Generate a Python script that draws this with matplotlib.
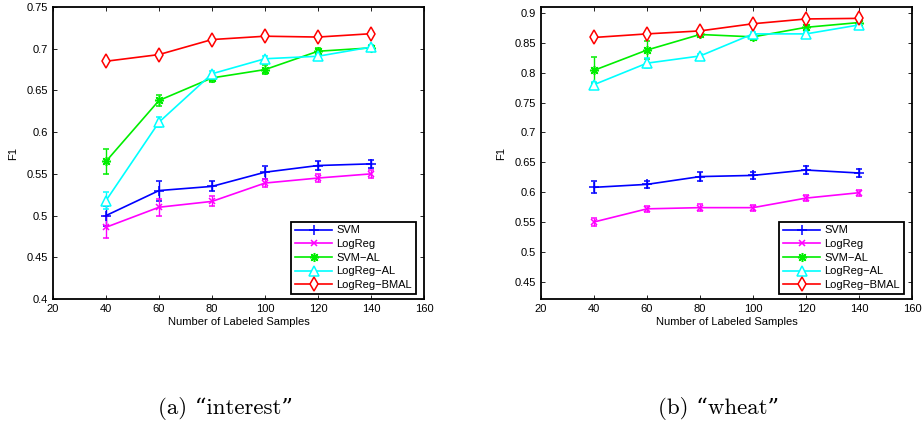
import matplotlib
matplotlib.use("Agg")
import matplotlib.pyplot as plt
from matplotlib.lines import Line2D
import numpy as np

plt.rcParams['font.family'] = ['Liberation Sans', 'DejaVu Sans']

n_labeled = [40, 60, 80, 100, 120, 140]
method_names = ['SVM', 'LogReg', 'SVM\u2212AL', 'LogReg\u2212AL', 'LogReg\u2212BMAL']

# "interest" dataset: mean F1 and error half-widths
interest_svm = [0.500, 0.530, 0.535, 0.552, 0.560, 0.562]
interest_svm_err = [0.012, 0.012, 0.006, 0.008, 0.005, 0.005]
interest_logreg = [0.486, 0.510, 0.517, 0.539, 0.545, 0.550]
interest_logreg_err = [0.013, 0.010, 0.006, 0.005, 0.005, 0.005]
interest_svm_al = [0.565, 0.638, 0.665, 0.675, 0.697, 0.701]
interest_svm_al_err = [0.015, 0.007, 0.005, 0.005, 0.004, 0.003]
interest_logreg_al = [0.518, 0.612, 0.670, 0.688, 0.691, 0.702]
interest_logreg_al_err = [0.010, 0.006, 0.003, 0.003, 0.003, 0.003]
interest_bmal = [0.685, 0.693, 0.711, 0.715, 0.714, 0.718]
interest_bmal_err = [0.002, 0.002, 0.002, 0.002, 0.002, 0.002]

# "wheat" dataset
wheat_svm = [0.608, 0.613, 0.626, 0.628, 0.637, 0.632]
wheat_svm_err = [0.010, 0.006, 0.008, 0.006, 0.006, 0.006]
wheat_logreg = [0.550, 0.572, 0.574, 0.574, 0.590, 0.599]
wheat_logreg_err = [0.007, 0.005, 0.006, 0.005, 0.005, 0.005]
wheat_svm_al = [0.804, 0.838, 0.864, 0.860, 0.876, 0.884]
wheat_svm_al_err = [0.022, 0.015, 0.005, 0.005, 0.004, 0.003]
wheat_logreg_al = [0.780, 0.816, 0.828, 0.865, 0.865, 0.880]
wheat_logreg_al_err = [0.005, 0.008, 0.003, 0.004, 0.003, 0.003]
wheat_bmal = [0.859, 0.865, 0.870, 0.882, 0.890, 0.891]
wheat_bmal_err = [0.002, 0.002, 0.002, 0.002, 0.002, 0.002]

colors = ['#0000ff', '#ff00ff', '#00ee00', '#00ffff', '#ff0000']
# (8, 2, 0) is an eight-spoke asterisk, like MATLAB's '*'
markers = ['+', 'x', (8, 2, 0), '^', 'd']
marker_sizes = [7, 4.5, 6.5, 6.5, 7]


def marker_style(i):
    hollow = markers[i] in ('^', 'd')
    return dict(marker=markers[i], markersize=marker_sizes[i],
                markerfacecolor='white' if hollow else colors[i],
                markeredgecolor=colors[i], markeredgewidth=1.1)


def draw_panel(ax, series, errors, ylim, yticks):
    for i in range(5):
        ax.errorbar(n_labeled, series[i], yerr=errors[i], color=colors[i],
                    lw=1.2, capsize=2.5, elinewidth=1.0, capthick=1.0,
                    **marker_style(i))
    ax.set_xlim(20, 160)
    ax.set_ylim(*ylim)
    ax.set_xticks(np.arange(20, 161, 20))
    ax.set_yticks(yticks)
    ax.set_yticklabels(['%g' % t for t in yticks])
    ax.tick_params(direction='in', top=True, right=True, labelsize=8,
                   length=3, width=0.6)
    for sp in ax.spines.values():
        sp.set_linewidth(1.3)
    ax.set_xlabel('Number of Labeled Samples', fontsize=8, labelpad=2)
    ax.set_ylabel('F1', fontsize=8, labelpad=6)

    # legend keys show line + marker only
    handles = [Line2D([], [], color=colors[i], lw=1.2, **marker_style(i))
               for i in range(5)]
    leg = ax.legend(handles, method_names, loc='lower right',
                    bbox_to_anchor=(0.978, 0.017), borderaxespad=0,
                    fontsize=8, handlelength=3.3, fancybox=False,
                    framealpha=1, edgecolor='black', borderpad=0.35,
                    labelspacing=0.33, handletextpad=0.4)
    leg.get_frame().set_linewidth(1.3)


fig = plt.figure(figsize=(9.22, 4.28), dpi=100)
ax1 = fig.add_axes([0.0575, 0.3014, 0.4024, 0.6822])
ax2 = fig.add_axes([0.5868, 0.3014, 0.4024, 0.6822])

draw_panel(ax1,
           [interest_svm, interest_logreg, interest_svm_al, interest_logreg_al, interest_bmal],
           [interest_svm_err, interest_logreg_err, interest_svm_al_err,
            interest_logreg_al_err, interest_bmal_err],
           (0.4, 0.75), np.round(np.arange(0.4, 0.751, 0.05), 2))
draw_panel(ax2,
           [wheat_svm, wheat_logreg, wheat_svm_al, wheat_logreg_al, wheat_bmal],
           [wheat_svm_err, wheat_logreg_err, wheat_svm_al_err,
            wheat_logreg_al_err, wheat_bmal_err],
           (0.421, 0.91), np.round(np.arange(0.45, 0.901, 0.05), 2))

fig.text(225 / 922, 1 - 408 / 428, '(a) \u201cinterest\u201d', ha='center', va='center',
         fontsize=16.5, family=['cmr10', 'DejaVu Serif'])
fig.text(719 / 922, 1 - 408 / 428, '(b) \u201cwheat\u201d', ha='center', va='center',
         fontsize=16.5, family=['cmr10', 'DejaVu Serif'])

fig.savefig('out.png', dpi=100)
